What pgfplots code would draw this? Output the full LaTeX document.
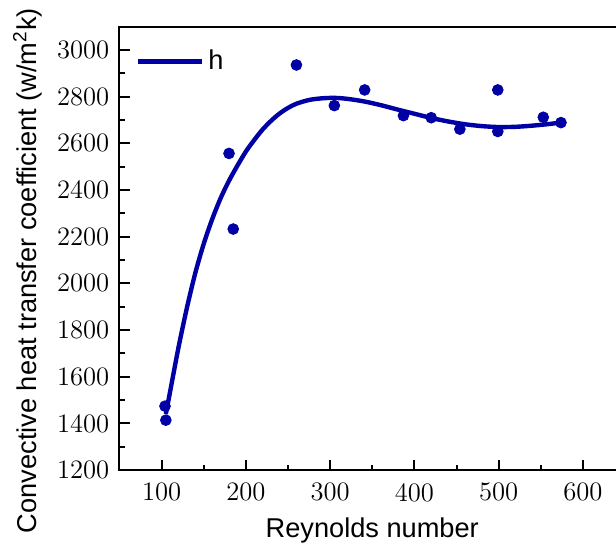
\documentclass[border=0pt]{standalone}
\usepackage{fontspec}
\setsansfont{Liberation Sans}
\newfontfamily\labfont{Liberation Sans}
\usepackage{pgfplots}
\pgfplotsset{compat=1.18}
\definecolor{dblue}{RGB}{0,0,165}
\begin{document}
\begin{tikzpicture}
\begin{axis}[
  scale only axis,
  width=252.75pt, height=221.7pt,
  xmin=50, xmax=650, ymin=1200, ymax=3100,
  xtick={100,200,...,600},
  ytick={1200,1400,...,3000},
  minor x tick num=1, minor y tick num=1,
  tick align=inside,
  xtick pos=left, ytick pos=left,
  major tick length=5.3pt, minor tick length=2.7pt,
  axis line style={line width=1pt},
  every tick/.style={black, line width=1pt},
  xticklabels={100,200,300,400,500,600},
  yticklabels={1200,1400,1600,1800,2000,2200,2400,2600,2800,3000},
  yticklabel style={font=\rmfamily\fontsize{13.3}{15}\selectfont, xshift=-1.6pt},
  xticklabel style={font=\rmfamily\fontsize{13.3}{15}\selectfont, yshift=-3pt},
  xlabel={Reynolds number},
  ylabel={Convective heat transfer coefficient (w/m\textsuperscript{2}k)},
  xlabel style={font=\labfont\fontsize{13.6}{15}\selectfont, yshift=-1pt},
  ylabel style={font=\labfont\fontsize{13.6}{15}\selectfont, at={(ticklabel cs:0.45)}, yshift=0.5pt},
  legend style={draw=none, fill=none, at={(0,1)}, anchor=north west,
    xshift=5pt, yshift=-7.5pt, font=\labfont\fontsize{13.6}{15}\selectfont},
  legend cell align=left,
]
\addplot[only marks, mark=*, mark size=2.7pt, color=dblue, forget plot] coordinates {
(104,1474) (105,1414) (180,2557) (185,2233) (260,2936) (305,2762)
(341,2829) (387,2719) (420,2710) (454,2661) (499,2829) (499,2651)
(553,2712) (574,2689)
};
\addplot[color=dblue, line width=2.2pt, smooth, no marks,
  legend image code/.code={\draw[line width=2.2pt] (0pt,0pt) -- (32pt,0pt);}] coordinates {
(105,1440) (110,1535) (120,1725) (130,1895) (140,2045) (150,2170)
(160,2275) (170,2365) (180,2440) (190,2505) (200,2565) (210,2615)
(220,2660) (230,2697) (240,2728) (250,2752) (260,2770) (275,2786)
(290,2793) (305,2795) (320,2791) (340,2780) (360,2764) (380,2745)
(400,2727) (420,2709) (440,2694) (460,2682) (480,2674) (500,2670)
(520,2671) (540,2676) (560,2683) (575,2690)
};
\addlegendentry{h}
\end{axis}
\pgfresetboundingbox
\useasboundingbox (-59.75pt,-36pt) rectangle (248.25pt,235.05pt);
\end{tikzpicture}
\end{document}
